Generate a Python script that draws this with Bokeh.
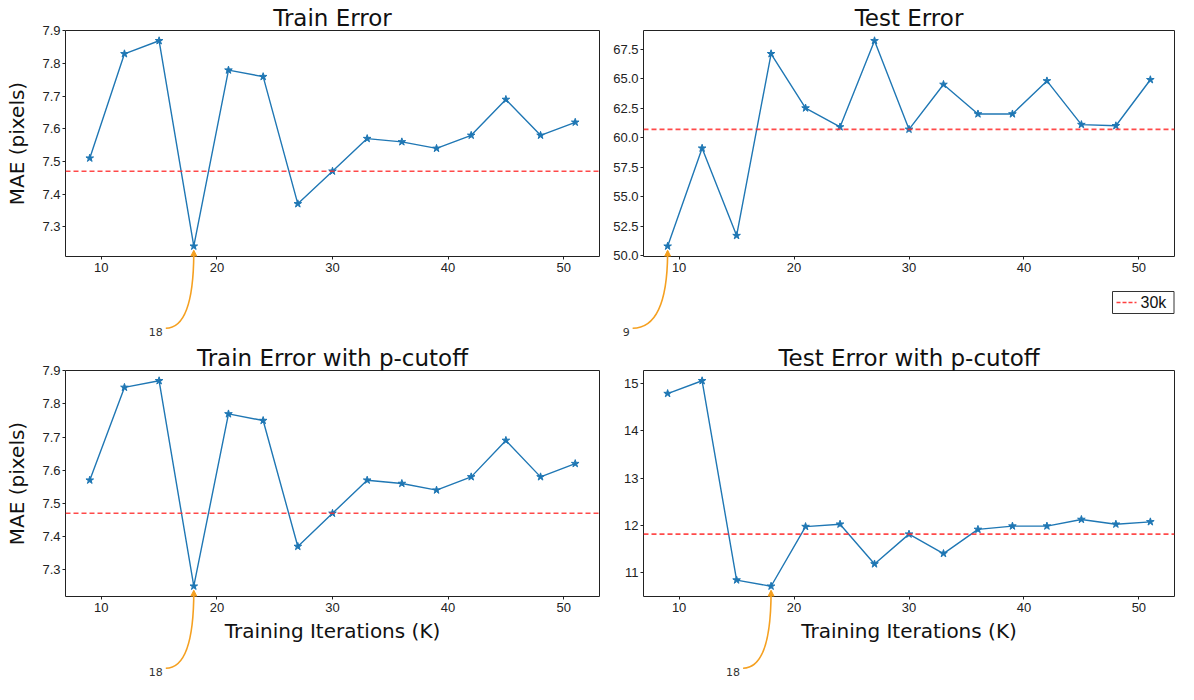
import numpy as np
from bokeh.plotting import figure
from bokeh.layouts import gridplot
from bokeh.models import (Range1d, FixedTicker, PrintfTickFormatter, Span, Arrow, NormalHead)
from bokeh.core.properties import value
from bokeh.embed import file_html
from bokeh.resources import INLINE

# ---------------- data ----------------
iterations = [9, 12, 15, 18, 21, 24, 27, 30, 33, 36, 39, 42, 45, 48, 51]
train_error = [7.51, 7.83, 7.87, 7.24, 7.78, 7.76, 7.37, 7.47, 7.57, 7.56, 7.54, 7.58, 7.69, 7.58, 7.62]
test_error = [50.8, 59.1, 51.7, 67.1, 62.5, 60.9, 68.2, 60.7, 64.5, 62.0, 62.0, 64.8, 61.1, 61.0, 64.9]
train_error_pcut = [7.57, 7.85, 7.87, 7.25, 7.77, 7.75, 7.37, 7.47, 7.57, 7.56, 7.54, 7.58, 7.69, 7.58, 7.62]
test_error_pcut = [14.79, 15.06, 10.85, 10.72, 11.98, 12.03, 11.19, 11.82, 11.41, 11.92, 11.99, 11.99, 12.13, 12.03, 12.08]
reference_iteration = 30
reference_label = "30k"

titles = ["Train Error", "Test Error", "Train Error with p-cutoff", "Test Error with p-cutoff"]
x_ticks = [10, 20, 30, 40, 50]
y_ticks_train = [7.3, 7.4, 7.5, 7.6, 7.7, 7.8, 7.9]
y_ticks_test = [50.0, 52.5, 55.0, 57.5, 60.0, 62.5, 65.0, 67.5]
y_ticks_test_pcut = [11, 12, 13, 14, 15]
y_label = "MAE (pixels)"
x_label = "Training Iterations (K)"

# ---------------- style ----------------
BLUE = "#1f77b4"
RED = "#ff2a2a"
ORANGE = "#f5a020"
TITLE_FONT = "DejaVu Sans"
TICK_FONT = "Liberation Sans"

LEFT = dict(min_border_left=65, frame_width=534, min_border_right=11)
RIGHT = dict(min_border_left=33, frame_width=531, min_border_right=4)
TOP = dict(min_border_top=30, frame_height=226, min_border_bottom=86)
BOTTOM = dict(min_border_top=28, frame_height=226, min_border_bottom=88)


def padded(vals, frac=0.05):
    lo, hi = min(vals), max(vals)
    d = (hi - lo) * frac
    return lo - d, hi + d


def panel(title, ys, yticks, fmt, hz, vt, ylabel, xlabel, legend):
    xr = padded(iterations)
    yr = padded(ys)
    p = figure(output_backend="svg", toolbar_location=None,
               x_range=Range1d(*xr), y_range=Range1d(*yr),
               **hz, **vt)
    p.background_fill_color = "white"
    p.border_fill_color = "white"
    p.outline_line_color = "#222222"
    p.outline_line_width = 1
    p.grid.visible = False

    p.title.text = title
    p.title.text_font = TITLE_FONT
    p.title.text_font_size = "23px"
    p.title.text_font_style = "normal"
    p.title.text_color = "#111111"
    p.title.align = "center"
    p.title.standoff = 0

    for ax in (p.xaxis[0], p.yaxis[0]):
        ax.axis_line_color = None
        ax.major_tick_line_color = "#222222"
        ax.major_tick_out = 3
        ax.major_tick_in = 0
        ax.minor_tick_line_color = None
        ax.major_label_text_font = TICK_FONT
        ax.major_label_text_font_size = "13px"
        ax.major_label_text_color = "#222222"
        ax.axis_label_text_font = TITLE_FONT
        ax.axis_label_text_font_size = "20px"
        ax.axis_label_text_font_style = "normal"
        ax.axis_label_text_color = "#111111"
    p.xaxis.ticker = FixedTicker(ticks=x_ticks)
    p.xaxis.formatter = PrintfTickFormatter(format="%d")
    p.xaxis.major_label_standoff = 3
    p.yaxis.ticker = FixedTicker(ticks=yticks)
    p.yaxis.formatter = PrintfTickFormatter(format=fmt)
    p.yaxis.major_label_standoff = 2
    if ylabel:
        p.yaxis.axis_label = y_label
        p.yaxis.axis_label_standoff = 10
    if xlabel:
        p.xaxis.axis_label = x_label
        p.xaxis.axis_label_standoff = 4

    ref_value = ys[iterations.index(reference_iteration)]
    p.add_layout(Span(location=ref_value, dimension="width", line_color=RED,
                      line_alpha=0.85, line_width=1.6, line_dash="5 3"))

    p.line(iterations, ys, line_color=BLUE, line_width=1.4)
    p.scatter(iterations, ys, marker="star", size=8, fill_color=BLUE, line_color=BLUE)

    sx = hz["frame_width"] / (xr[1] - xr[0])
    sy = vt["frame_height"] / (yr[1] - yr[0])

    if legend:
        ytop = yr[0] - 35 / sy
        ybot = yr[0] - 57 / sy
        xright = xr[1] - 0.5 / sx
        xleft = xr[1] - 62 / sx
        ymid = (ytop + ybot) / 2
        p.quad(left=[xleft], right=[xright], top=[ytop], bottom=[ybot],
               fill_color="white", line_color="#333333", line_width=1, level="overlay")
        p.segment(x0=[xleft + 4 / sx], x1=[xleft + 24 / sx], y0=[ymid], y1=[ymid],
                  line_color=RED, line_alpha=0.9, line_width=1.6, line_dash="4 2",
                  level="overlay")
        p.text(x=[xleft + 28 / sx], y=[ymid], text=[reference_label],
               text_font=value(TICK_FONT), text_font_size="16px", text_color="#111111",
               text_align="left", text_baseline="middle", level="overlay")

    # annotation of the minimum
    i = ys.index(min(ys))
    xt, yt = iterations[i], ys[i]
    text = str(xt)
    text_w = 7 * len(text)
    p.text(x=[xt - 45 / sx], y=[yt - 86 / sy], text=[text], text_font=value(TITLE_FONT),
           text_font_size="11px", text_color="#333333",
           text_align="left", text_baseline="alphabetic", level="overlay")
    x0 = xt + (-45 + text_w + 3) / sx
    y0 = yt - 82 / sy
    x1, y1 = xt, yt - 5 / sy
    p.quadratic(x0=[x0], y0=[y0], x1=[x1], y1=[y1], cx=[xt], cy=[y0],
                line_color=ORANGE, line_width=1.6, level="overlay")
    p.add_layout(Arrow(x_start=xt, y_start=yt - 14 / sy, x_end=xt, y_end=yt - 4 / sy,
                       line_color=ORANGE, line_width=1.6,
                       end=NormalHead(size=6, fill_color=ORANGE, line_color=ORANGE)))
    return p


p1 = panel(titles[0], train_error, y_ticks_train, "%.1f", LEFT, TOP, True, False, False)
p2 = panel(titles[1], test_error, y_ticks_test, "%.1f", RIGHT, TOP, False, False, True)
p3 = panel(titles[2], train_error_pcut, y_ticks_train, "%.1f", LEFT, BOTTOM, True, True, False)
p4 = panel(titles[3], test_error_pcut, y_ticks_test_pcut, "%d", RIGHT, BOTTOM, False, True, False)

grid = gridplot([[p1, p2], [p3, p4]], toolbar_location=None)
open("out.html", "w").write(file_html(grid, INLINE))
